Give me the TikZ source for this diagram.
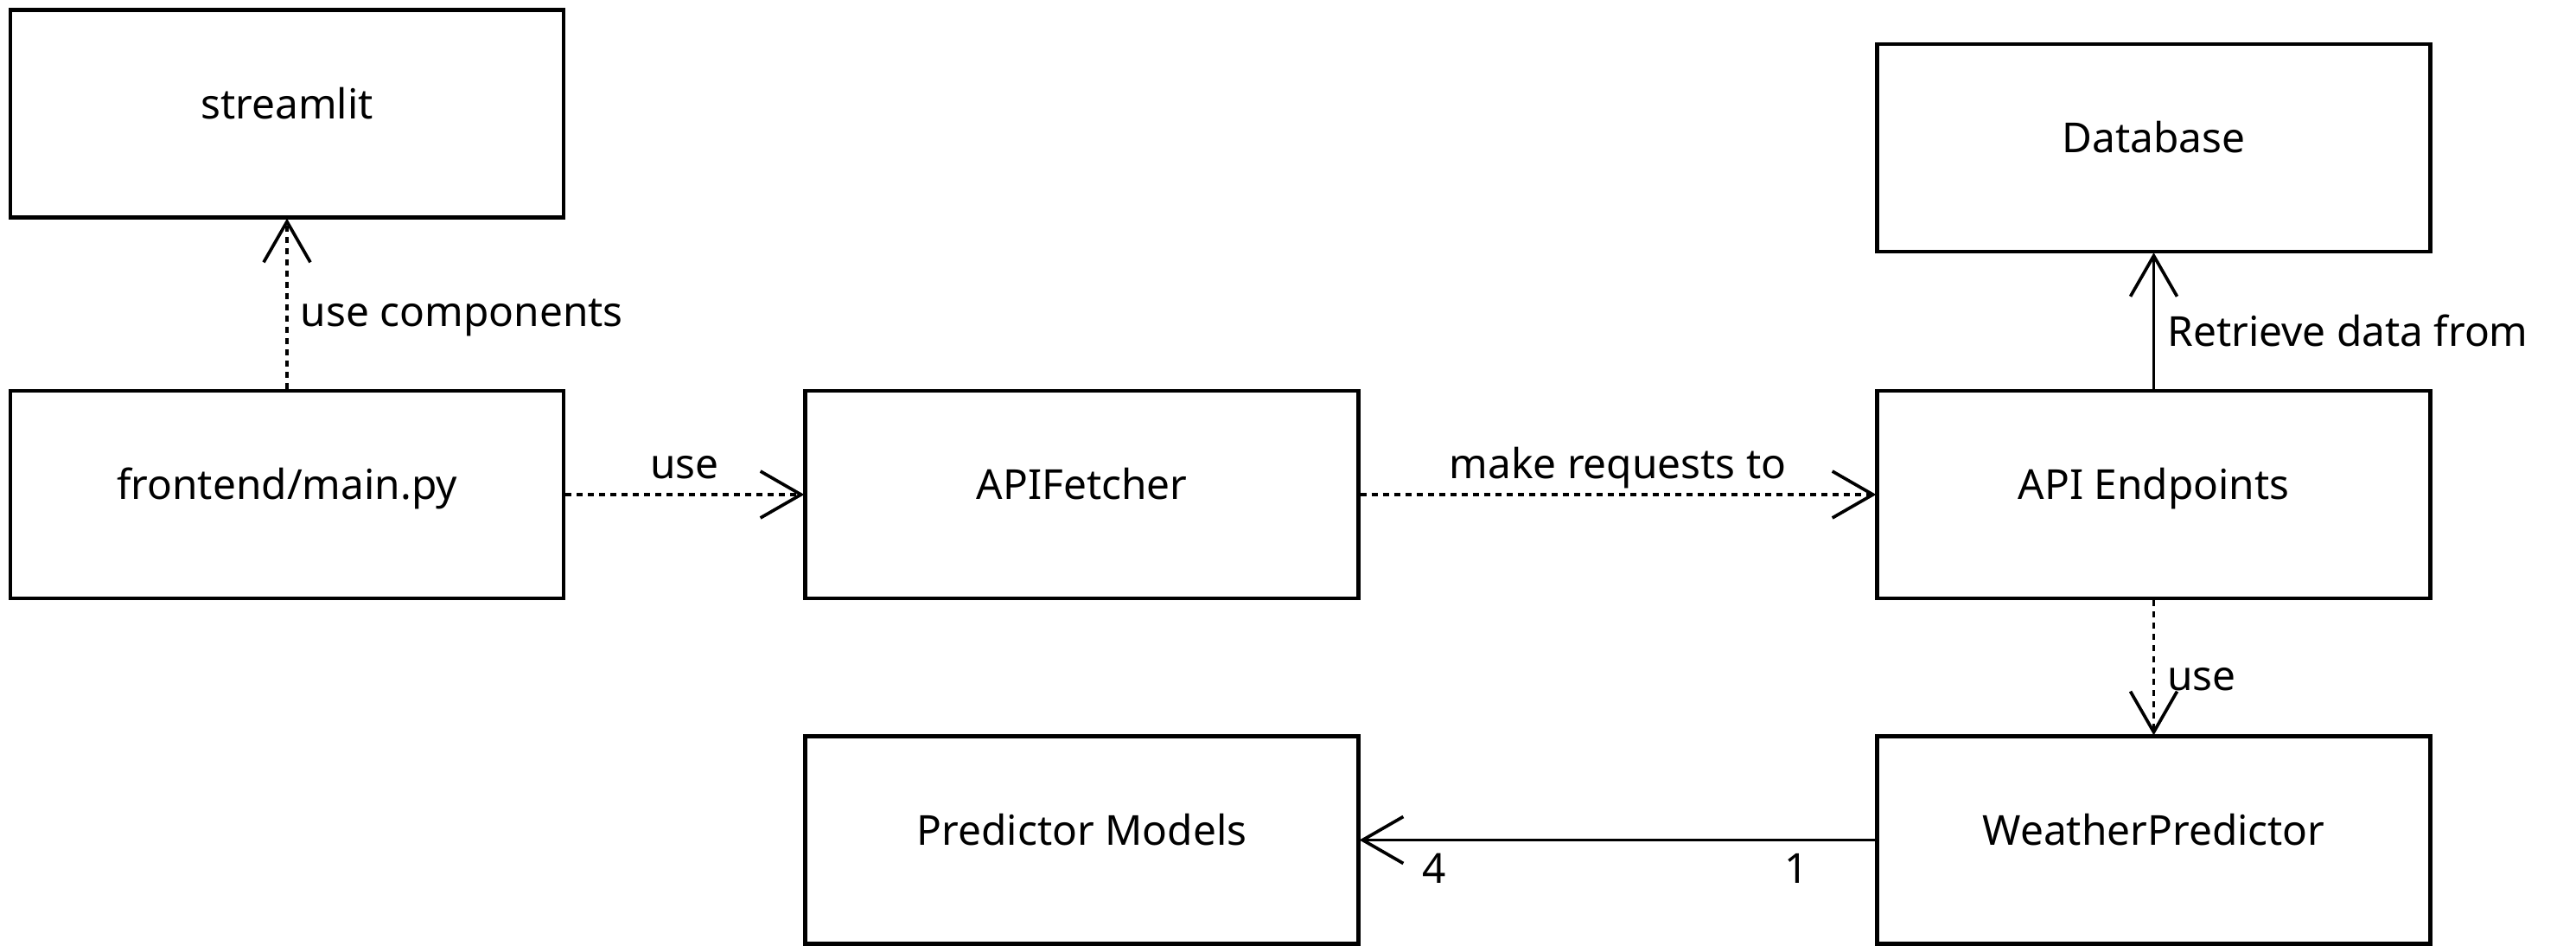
\documentclass[tikz,border=0pt]{standalone}
\usepackage{fontspec}
\setmainfont{Noto Sans}
\usetikzlibrary{arrows.meta}

\begin{document}
\begin{tikzpicture}[
            box/.style={draw=black, line width=1.25pt, minimum width=6.4cm, minimum height=2.4cm,
                        text height=0.3cm, text depth=0.18cm, font=\fontsize{13.6pt}{16pt}\selectfont},
            link/.style={line width=1.05pt, -{Straight Barb[length=0.47cm, width=0.54cm]}, shorten >=-0.3pt},
            dep/.style={link, dash pattern=on 0.07cm off 0.06cm},
            lbl/.style={inner sep=0pt, font=\fontsize{13.6pt}{16pt}\selectfont},
        ]
            \useasboundingbox (0, 0) rectangle (29.8, 11);

            % frontend side
            \node[box] (streamlit) at (3.32, 9.685) {streamlit};
            \node[box] (frontend) at (3.32, 5.28) {frontend/main.py};
            \node[box] (fetcher) at (12.515, 5.28) {APIFetcher};

            % backend side
            \node[box] (database) at (24.915, 9.29) {Database};
            \node[box] (endpoints) at (24.915, 5.28) {API Endpoints};
            \node[box] (predictor) at (24.915, 1.285) {WeatherPredictor};
            \node[box] (models) at (12.515, 1.285) {Predictor Models};

            % dependencies
            \draw[dep] (frontend.north) -- (streamlit.south)
                node[lbl, midway, anchor=base west, xshift=0.14cm, yshift=-0.26cm] {use components};
            \draw[dep] (frontend.east) -- (fetcher.west)
                node[lbl, midway, anchor=base, yshift=0.18cm] {use};
            \draw[dep] (fetcher.east) -- (endpoints.west)
                node[lbl, midway, anchor=base, yshift=0.18cm] {make requests to};
            \draw[link] (endpoints.north) -- (database.south)
                node[lbl, midway, anchor=base west, xshift=0.14cm, yshift=-0.29cm] {Retrieve data from};
            \draw[dep] (endpoints.south) -- (predictor.north)
                node[lbl, midway, anchor=base west, xshift=0.14cm, yshift=-0.265cm] {use};

            % association with multiplicities
            \draw[link] (predictor.west) -- (models.east)
                node[lbl, pos=0, anchor=base east, xshift=-0.76cm, yshift=-0.5cm] {1}
                node[lbl, pos=1, anchor=base west, xshift=0.70cm, yshift=-0.5cm] {4};
        \end{tikzpicture}
\end{document}
